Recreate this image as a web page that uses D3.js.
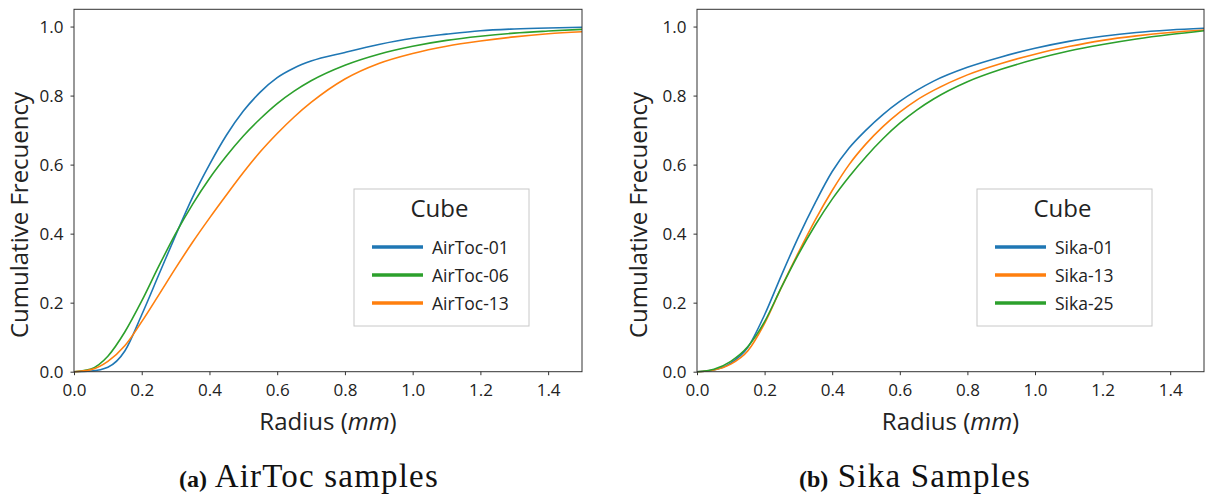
<!DOCTYPE html>
<html>
<head>
<meta charset="utf-8">
<script src="https://cdn.jsdelivr.net/npm/d3@7"></script>
<style>
  body { margin: 0; background: #fff; }
  svg { display: block; }
  .axis text { font-family: "Open Sans", sans-serif; font-size: 17px; fill: #222; }
  .axis path, .axis line { stroke: #333; }
</style>
</head>
<body>
<div id="chart"></div>
<script>
// radius grid (mm) shared by all curves
const radius = [0, 0.05, 0.1, 0.15, 0.2, 0.25, 0.3, 0.35, 0.4, 0.45, 0.5, 0.55, 0.6, 0.65, 0.7, 0.8, 0.9, 1.0, 1.1, 1.2, 1.3, 1.4, 1.5];

// panel (a) AirToc
const airtoc01 = [0, 0.002, 0.013, 0.06, 0.165, 0.28, 0.395, 0.505, 0.60, 0.685, 0.755, 0.81, 0.852, 0.88, 0.90, 0.925, 0.948, 0.966, 0.978, 0.988, 0.993, 0.996, 0.998];
const airtoc06 = [0, 0.008, 0.045, 0.115, 0.205, 0.305, 0.40, 0.485, 0.56, 0.625, 0.683, 0.733, 0.777, 0.813, 0.843, 0.888, 0.92, 0.943, 0.96, 0.972, 0.981, 0.987, 0.992];
const airtoc13 = [0, 0.006, 0.03, 0.075, 0.145, 0.222, 0.30, 0.375, 0.445, 0.512, 0.577, 0.637, 0.69, 0.738, 0.78, 0.848, 0.893, 0.922, 0.943, 0.958, 0.97, 0.979, 0.985];

// panel (b) Sika
const sika01 = [0, 0.005, 0.025, 0.07, 0.165, 0.28, 0.39, 0.49, 0.58, 0.648, 0.70, 0.745, 0.783, 0.815, 0.842, 0.882, 0.912, 0.937, 0.957, 0.972, 0.983, 0.99, 0.995];
const sika13 = [0, 0.005, 0.022, 0.06, 0.14, 0.245, 0.345, 0.44, 0.525, 0.60, 0.66, 0.71, 0.752, 0.787, 0.815, 0.86, 0.893, 0.92, 0.942, 0.96, 0.973, 0.983, 0.99];
const sika25 = [0, 0.007, 0.03, 0.072, 0.145, 0.245, 0.34, 0.425, 0.50, 0.565, 0.623, 0.675, 0.72, 0.758, 0.79, 0.84, 0.876, 0.905, 0.929, 0.948, 0.964, 0.977, 0.988];

const xTicks = [0, 0.2, 0.4, 0.6, 0.8, 1.0, 1.2, 1.4];
const yTicks = [0, 0.2, 0.4, 0.6, 0.8, 1.0];

const blue = '#1f77b4', orange = '#ff7f0e', green = '#2ca02c';

const panels = [
  {left: 74, right: 582, labelX: 28, caption: 'AirToc samples', tag: '(a)', capX: 309,
   legend: {x: 354, y: 189, w: 175, h: 137},
   series: [
     {name: 'AirToc-01', values: airtoc01, color: blue},
     {name: 'AirToc-06', values: airtoc06, color: green},
     {name: 'AirToc-13', values: airtoc13, color: orange}
   ]},
  {left: 697, right: 1204, labelX: 647, caption: 'Sika Samples', tag: '(b)', capX: 915,
   legend: {x: 977, y: 189, w: 175, h: 137},
   series: [
     {name: 'Sika-01', values: sika01, color: blue},
     {name: 'Sika-13', values: sika13, color: orange},
     {name: 'Sika-25', values: sika25, color: green}
   ]}
];

const width = 1207, height = 496;
const plotTop = 9.3, plotBottom = 371.7;

const svg = d3.select('#chart').append('svg')
  .attr('width', width)
  .attr('height', height);

panels.forEach(p => {
  const x = d3.scaleLinear().domain([0, 1.5]).range([p.left, p.right]);
  const y = d3.scaleLinear().domain([0, 1.05]).range([plotBottom, plotTop]);

  const g = svg.append('g');

  const line = d3.line()
    .x((d, i) => x(radius[i]))
    .y(d => y(d))
    .curve(d3.curveMonotoneX);

  g.selectAll('path.curve')
    .data(p.series)
    .join('path')
    .attr('class', 'curve')
    .attr('fill', 'none')
    .attr('stroke', d => d.color)
    .attr('stroke-width', 1.6)
    .attr('d', d => line(d.values));

  // frame
  g.append('rect')
    .attr('x', p.left).attr('y', plotTop)
    .attr('width', p.right - p.left).attr('height', plotBottom - plotTop)
    .attr('fill', 'none').attr('stroke', '#333').attr('stroke-width', 1);

  g.append('g').attr('class', 'axis')
    .attr('transform', `translate(0,${plotBottom})`)
    .call(d3.axisBottom(x).tickValues(xTicks).tickFormat(d3.format('.1f')).tickSize(3.5).tickSizeOuter(0).tickPadding(9))
    .call(a => a.select('.domain').remove());

  g.append('g').attr('class', 'axis')
    .attr('transform', `translate(${p.left},0)`)
    .call(d3.axisLeft(y).tickValues(yTicks).tickFormat(d3.format('.1f')).tickSize(3.5).tickSizeOuter(0).tickPadding(7))
    .call(a => a.select('.domain').remove());

  // axis titles
  g.append('text')
    .attr('transform', `translate(${p.labelX},215) rotate(-90)`)
    .attr('text-anchor', 'middle')
    .style('font-family', '"Open Sans", sans-serif')
    .style('font-size', '24px')
    .style('fill', '#222')
    .text('Cumulative Frecuency');

  const xl = g.append('text')
    .attr('x', (p.left + p.right) / 2).attr('y', 430)
    .attr('text-anchor', 'middle')
    .style('font-family', '"Open Sans", sans-serif')
    .style('font-size', '24px')
    .style('fill', '#222');
  xl.append('tspan').text('Radius (');
  xl.append('tspan').style('font-style', 'italic').text('mm');
  xl.append('tspan').text(')');

  // legend
  const L = p.legend;
  const lg = g.append('g');
  lg.append('rect')
    .attr('x', L.x).attr('y', L.y).attr('width', L.w).attr('height', L.h)
    .attr('fill', '#fff').attr('stroke', '#c8c8c8').attr('stroke-width', 1);
  lg.append('text')
    .attr('x', L.x + L.w / 2 - 2).attr('y', L.y + 28)
    .attr('text-anchor', 'middle')
    .style('font-family', '"Open Sans", sans-serif')
    .style('font-size', '24px')
    .style('fill', '#222')
    .text('Cube');
  const item = lg.selectAll('g.item')
    .data(p.series)
    .join('g')
    .attr('class', 'item')
    .attr('transform', (d, i) => `translate(${L.x + 18},${L.y + 58 + i * 28})`);
  item.append('line')
    .attr('x1', 0).attr('x2', 51)
    .attr('stroke', d => d.color).attr('stroke-width', 3.5);
  item.append('text')
    .attr('x', 60).attr('y', 6.5)
    .style('font-family', '"Open Sans", sans-serif')
    .style('font-size', '17.5px')
    .style('fill', '#222')
    .text(d => d.name);

  // caption
  const cap = svg.append('text')
    .attr('x', p.capX).attr('y', 487)
    .attr('text-anchor', 'middle')
    .style('font-family', '"Liberation Serif", serif')
    .style('fill', '#111');
  cap.append('tspan').style('font-weight', 'bold').style('font-size', '24px').text(p.tag);
  cap.append('tspan').style('font-size', '33px').style('letter-spacing', '1.2px').text(' ' + p.caption);
});
</script>
</body>
</html>
